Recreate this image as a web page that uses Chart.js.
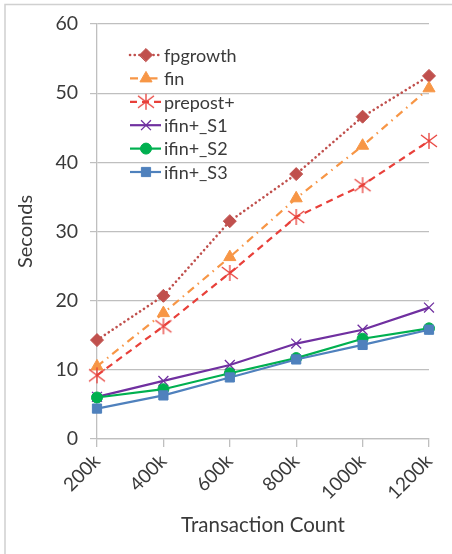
<!DOCTYPE html>
<html>
<head>
<meta charset="utf-8">
<script src="https://cdn.jsdelivr.net/npm/chart.js@4/dist/chart.umd.min.js"></script>
<style>
  html, body { margin: 0; padding: 0; background: #fff; }
  #wrap { width: 452px; height: 554px; position: relative; }
</style>
</head>
<body>
<div id="wrap"><canvas id="c" width="452" height="554"></canvas></div>
<script>
const categories = ['200k', '400k', '600k', '800k', '1000k', '1200k'];
const seriesNames = ['fpgrowth', 'fin', 'prepost+', 'ifin+_S1', 'ifin+_S2', 'ifin+_S3'];
const fpgrowth = [14.3, 20.7, 31.5, 38.3, 46.6, 52.5];
const fin      = [10.5, 18.2, 26.3, 34.8, 42.4, 50.7];
const prepost  = [9.2, 16.3, 24.0, 32.1, 36.7, 43.1];
const ifinS1   = [6.1, 8.4, 10.7, 13.8, 15.8, 19.0];
const ifinS2   = [6.0, 7.2, 9.5, 11.7, 14.5, 16.0];
const ifinS3   = [4.4, 6.3, 8.9, 11.5, 13.6, 15.8];
const yTicks   = [0, 10, 20, 30, 40, 50, 60];

const FONT = 'Lato, "Open Sans", sans-serif';
const TEXT = '#3a3a3a';

// asterisk marker (X plus vertical bar) for prepost+
function makeStar(color, r) {
  const s = r * 2 + 4;
  const cv = document.createElement('canvas');
  cv.width = s; cv.height = s;
  const g = cv.getContext('2d');
  const c = s / 2;
  g.strokeStyle = color; g.lineWidth = 1.3;
  g.beginPath();
  g.moveTo(c - r, c - r * 0.75); g.lineTo(c + r, c + r * 0.75);
  g.moveTo(c - r, c + r * 0.75); g.lineTo(c + r, c - r * 0.75);
  g.moveTo(c, c - r); g.lineTo(c, c + r);
  g.stroke();
  return cv;
}
const starImg = makeStar('#E8403A', 8);

const styles = [
  { color: '#C0504D', dash: [0.1, 4.6], cap: 'round', width: 2.6, point: 'rectRot', radius: 6.5 },
  { color: '#F79646', dash: [8, 5, 1.5, 5], cap: 'butt', width: 2.2, point: 'triangle', radius: 7 },
  { color: '#E8403A', dash: [7, 5], cap: 'butt', width: 2.2, point: starImg, radius: 8 },
  { color: '#7030A0', dash: [], cap: 'butt', width: 2.2, point: 'crossRot', radius: 7 },
  { color: '#00B050', dash: [], cap: 'butt', width: 2.2, point: 'circle', radius: 5.5 },
  { color: '#4F81BD', dash: [], cap: 'butt', width: 2.2, point: 'rect', radius: 6.5 }
];
const values = [fpgrowth, fin, prepost, ifinS1, ifinS2, ifinS3];

const datasets = values.map((v, i) => ({
  label: seriesNames[i],
  data: v,
  borderColor: styles[i].color,
  backgroundColor: styles[i].color,
  borderWidth: styles[i].width,
  borderDash: styles[i].dash,
  borderCapStyle: styles[i].cap,
  pointStyle: styles[i].point,
  pointRadius: styles[i].radius,
  pointBorderWidth: styles[i].point === 'crossRot' ? 1.3 : 1,
  pointBackgroundColor: styles[i].color,
  pointBorderColor: styles[i].color,
  tension: 0,
  order: 6 - i
}));

const framePlugin = {
  id: 'frame',
  afterDraw(chart) {
    const g = chart.ctx;
    g.save();
    g.strokeStyle = '#D0D0D0';
    g.lineWidth = 1.5;
    g.beginPath();
    g.moveTo(5, 554); g.lineTo(5, 4.5); g.lineTo(452, 4.5);
    g.stroke();
    g.restore();
  }
};

const legendPlugin = {
  id: 'insideLegend',
  afterDatasetsDraw(chart) {
    const g = chart.ctx;
    const x0 = 130, x1 = 161, mx = 146, tx = 164;
    let y = 55;
    chart.data.datasets.forEach((ds, i) => {
      const st = styles[i];
      g.save();
      g.strokeStyle = st.color;
      g.lineWidth = st.width;
      g.setLineDash(st.dash);
      g.lineCap = st.cap;
      g.beginPath();
      g.moveTo(x0, y); g.lineTo(x1, y);
      g.stroke();
      g.setLineDash([]);
      g.fillStyle = st.color;
      g.strokeStyle = st.color;
      g.lineWidth = st.point === 'crossRot' ? 1.3 : 1;
      Chart.helpers.drawPoint(g, { pointStyle: st.point, radius: st.radius, borderWidth: 1, rotation: 0 }, mx, y);
      g.fillStyle = TEXT;
      g.font = '18px ' + FONT;
      g.textBaseline = 'middle';
      g.textAlign = 'left';
      g.fillText(ds.label, tx, y + 1);
      g.restore();
      y += 23.4;
    });
  }
};

new Chart(document.getElementById('c'), {
  type: 'line',
  data: { labels: categories, datasets },
  plugins: [framePlugin, legendPlugin],
  options: {
    responsive: false,
    animation: false,
    devicePixelRatio: 1,
    layout: { padding: { top: 24, right: 23, left: 0, bottom: 0 } },
    plugins: { legend: { display: false }, tooltip: { enabled: false } },
    scales: {
      x: {
        offset: false,
        afterFit(s) { s.height = 115; },
        grid: { drawOnChartArea: false, drawTicks: true, tickLength: 8, color: '#BFBFBF', lineWidth: 1.3 },
        border: { display: true, color: '#BFBFBF', width: 1.3 },
        ticks: { color: TEXT, font: { family: FONT, size: 19 }, minRotation: 45, maxRotation: 45, padding: 3, autoSkip: false },
        title: { display: true, text: 'Transaction Count', color: TEXT, font: { family: FONT, size: 20.5 }, padding: { top: 2, bottom: 16 } }
      },
      y: {
        min: 0, max: 60,
        afterFit(s) { s.width = 97; },
        afterBuildTicks(s) { s.ticks = yTicks.map(v => ({ value: v })); },
        grid: { color: '#BFBFBF', lineWidth: 1.2, borderDash: [4, 3], tickBorderDash: [], tickLength: 7, drawTicks: true },
        border: { display: true, color: '#BFBFBF', width: 1.3 },
        ticks: { color: TEXT, font: { family: FONT, size: 19.5 }, padding: 12 },
        title: { display: true, text: 'Seconds', color: TEXT, font: { family: FONT, size: 20 }, padding: { top: 14, bottom: 0 } }
      }
    }
  }
});
</script>
</body>
</html>
